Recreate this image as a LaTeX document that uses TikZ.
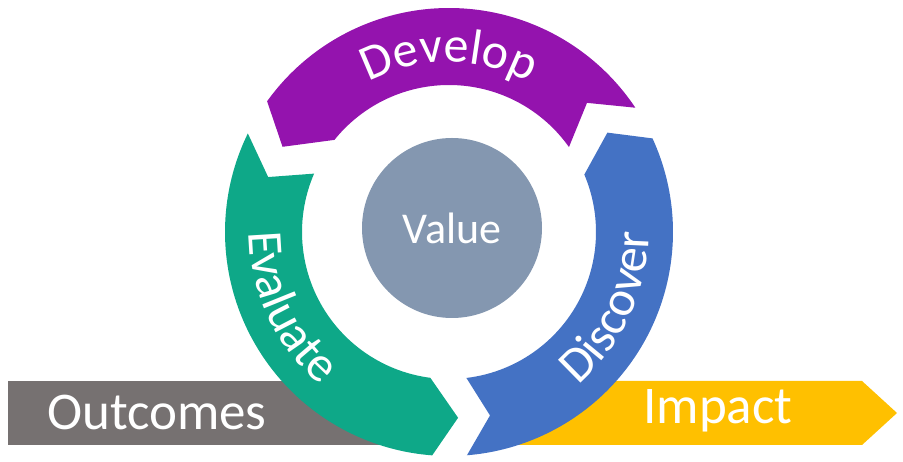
\documentclass[tikz,border=0pt]{standalone}
\usepackage{fontspec}
\setmainfont{Carlito}
\usetikzlibrary{decorations.text}
\definecolor{cpurple}{HTML}{9413AE}
\definecolor{cgreen}{HTML}{0EA888}
\definecolor{cblue}{HTML}{4472C4}
\definecolor{cvalue}{HTML}{8497B0}
\definecolor{cgray}{HTML}{767171}
\definecolor{cyellow}{HTML}{FFC000}
\begin{document}
\begin{tikzpicture}[x=1pt,y=1pt,
  lbl/.style={text=white,font=\fontsize{53}{53}\selectfont},
  arctext/.style={decorate,decoration={text along path,text align=center,text color=white,
     text={|\fontsize{50}{50}\selectfont|#1}}}]
\useasboundingbox (0,0) rectangle (903,462);
% bars
\fill[cgray] (8,17) rectangle (428,81);
\node[lbl] (out) at (157,49) {Outcomes};
\fill[cyellow] (500,17) -- (862,17) -- (897,49) -- (862,81) -- (500,81) -- cycle;
\node[lbl] (imp) at (718,51) {Impact};
\begin{scope}[shift={(449,230)}]
\coordinate (c) at (0,0);
% purple
\fill[cpurple] (144.3:224) arc[start angle=144.3,end angle=33.7,radius=224]
  -- (43.1:189) -- (35.3:147) arc[start angle=35.3,end angle=141.2,radius=147]
  -- (152.9:187) -- cycle;
% green
\fill[cgreen] (265.7:224) arc[start angle=265.7,end angle=153.9,radius=224]
  -- (163.1:189) -- (156.6:147) arc[start angle=156.6,end angle=262.7,radius=147]
  -- (272.8:186) -- cycle;
% blue
\fill[cblue] (24.7:224) arc[start angle=24.7,end angle=-85.4,radius=224]
  -- (-77.4:188) -- (-83.2:147) arc[start angle=-83.2,end angle=23,radius=147]
  -- (32.1:187) -- cycle;
\path[arctext=Develop] (130:170) arc[start angle=130,end angle=50,radius=170];
\path[arctext=Evaluate] (155:200) arc[start angle=155,end angle=255,radius=200];
\path[arctext=Discover] (-75:200) arc[start angle=-75,end angle=25,radius=200];
\fill[cvalue] (3,4) circle (90);
\node[text=white,font=\fontsize{44}{44}\selectfont] (val) at (3,4) {Value};
\end{scope}
\end{tikzpicture}
\end{document}
